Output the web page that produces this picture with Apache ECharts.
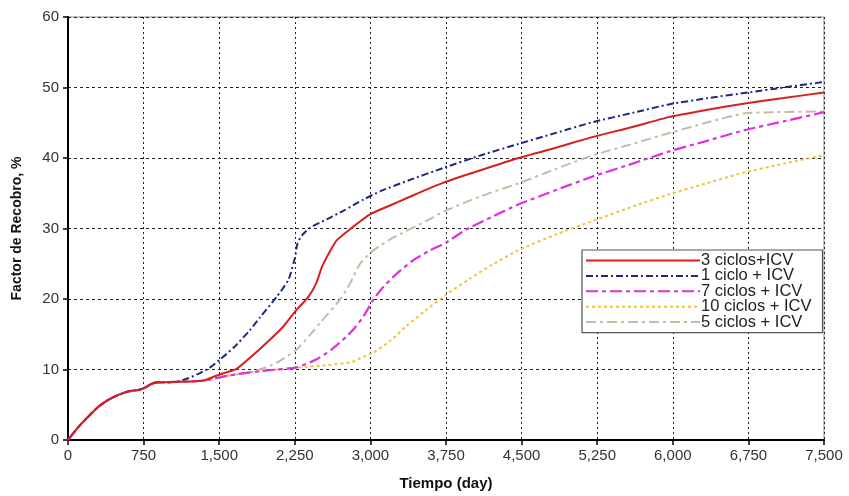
<!DOCTYPE html>
<html>
<head>
<meta charset="utf-8">
<script src="https://cdn.jsdelivr.net/npm/echarts@6/dist/echarts.min.js"></script>
<style>html,body{margin:0;padding:0;background:#fff;}#c{width:849px;height:496px;}</style>
</head>
<body>
<div id="c"></div>
<script>
var xTicks = [0, 750, 1500, 2250, 3000, 3750, 4500, 5250, 6000, 6750, 7500];
var yTicks = [0, 10, 20, 30, 40, 50, 60];
var seriesNames = ['3 ciclos+ICV', '1 ciclo + ICV', '7 ciclos + ICV', '10 ciclos + ICV', '5 ciclos + ICV'];

var common = [[0,0],[100,1.8],[200,3.3],[300,4.7],[400,5.7],[500,6.4],[600,6.9],[700,7.1],[760,7.4],[820,7.9],[870,8.15],[1000,8.2]];
var commonTail = [[1200,8.3],[1350,8.45]];
var baseline = [[1450,8.7],[1575,9.1],[1806,9.6]];

var blueData = [[1100,8.35],[1200,8.8],[1310,9.5],[1400,10.2],[1508,11.4],[1650,13.2],[1806,15.6],[1905,17.4],[2070,20.3],[2186,22.7],[2252,25.9],[2275,27.8],[2319,29.0],[2401,30.1],[2566,31.3],[2731,32.5],[2930,34.1],[3100,35.3],[3375,36.8],[3725,38.6],[4100,40.4],[4470,42.0],[4850,43.6],[5210,45.1],[5600,46.4],[5960,47.6],[6350,48.5],[6750,49.3],[7100,50.0],[7500,50.8]];
var redData = [[1450,9.0],[1550,9.5],[1673,10.1],[1800,11.6],[1971,13.8],[2136,16.1],[2269,18.5],[2385,20.3],[2467,22.4],[2517,24.5],[2566,25.9],[2665,28.3],[2798,29.9],[2996,32.0],[3200,33.3],[3375,34.4],[3725,36.5],[4100,38.3],[4470,40.0],[4850,41.5],[5210,43.0],[5600,44.4],[5960,45.8],[6330,46.8],[6700,47.7],[7100,48.5],[7500,49.3]];
var tanData = [[2000,10.5],[2100,11.2],[2269,12.85],[2400,14.9],[2500,16.6],[2698,19.9],[2798,22.2],[2897,25.0],[3029,26.9],[3227,28.7],[3558,31.1],[3757,32.6],[4100,34.6],[4467,36.4],[4850,38.5],[5211,40.4],[5600,42.0],[5956,43.5],[6330,45.0],[6700,46.3],[7000,46.5],[7500,46.6]];
var magentaData = [[2000,9.9],[2269,10.3],[2467,11.45],[2620,12.9],[2765,14.7],[2850,16.0],[2930,17.5],[3029,19.9],[3128,21.7],[3261,23.6],[3426,25.5],[3591,26.9],[3750,28.0],[3955,29.9],[4200,31.6],[4467,33.4],[4850,35.5],[5211,37.4],[5600,39.2],[5956,40.9],[6330,42.4],[6700,43.9],[7100,45.2],[7500,46.5]];
var yellowData = [[2000,9.9],[2302,10.3],[2550,10.6],[2797,11.0],[2900,11.6],[3029,12.4],[3200,14.1],[3360,16.2],[3558,18.5],[3750,20.6],[3988,22.9],[4200,24.8],[4467,26.9],[4850,29.2],[5211,31.1],[5600,33.1],[5956,34.8],[6330,36.4],[6700,37.9],[7100,39.2],[7500,40.4]];

var red = common.concat(commonTail, redData);
var blue = common.concat(blueData);
var tan = common.concat(commonTail, baseline, tanData);
var magenta = common.concat(commonTail, baseline, magentaData);
var yellow = common.concat(commonTail, baseline, yellowData);

function mk(name, data, color, type, width){
  return {name:name, type:'line', data:data, symbol:'none', smooth:0.2,
    lineStyle:{color:color, width:width, type:type}, itemStyle:{color:color}, emphasis:{disabled:true}};
}

var chart = echarts.init(document.getElementById('c'), null, {renderer:'canvas'});
chart.setOption({
  animation:false,
  backgroundColor:'#fff',
  textStyle:{fontFamily:'Liberation Sans, Arial, sans-serif'},
  grid:{left:68, right:25, top:17, bottom:51, show:true, borderColor:'#8a8a8a', borderWidth:1, containLabel:false},
  legend:{
    data:seriesNames, orient:'vertical', left:582, top:250,
    backgroundColor:'#fff', borderColor:'#555', borderWidth:1.2,
    padding:[2,11,2,3], itemWidth:114, itemHeight:14, itemGap:-1.6,
    itemStyle:{opacity:0},
    textStyle:{fontSize:16.5, lineHeight:15, color:'#222', fontFamily:'Liberation Sans, Arial, sans-serif', padding:[0,0,0,-4]}
  },
  xAxis:{
    type:'value', min:0, max:7500, interval:750,
    name:'Tiempo (day)', nameLocation:'middle', nameGap:36,
    nameTextStyle:{fontSize:15, fontWeight:'bold', color:'#111'},
    axisLine:{lineStyle:{color:'#000', width:2}},
    axisTick:{show:true, length:5, lineStyle:{color:'#000', width:1.5}},
    axisLabel:{fontSize:15, color:'#333', margin:8, formatter:function(v){return v.toLocaleString('en-US');}},
    splitLine:{show:true, lineStyle:{color:'#222', width:1, type:[2,3]}}
  },
  yAxis:{
    type:'value', min:0, max:60, interval:10,
    name:'Factor de Recobro, %', nameLocation:'middle', nameGap:44,
    nameTextStyle:{fontSize:14, fontWeight:'bold', color:'#111'},
    axisLine:{show:true, lineStyle:{color:'#000', width:2}},
    axisTick:{show:true, length:5, lineStyle:{color:'#000', width:1.5}},
    axisLabel:{fontSize:15, color:'#333', margin:9},
    splitLine:{show:true, lineStyle:{color:'#222', width:1, type:[3,3]}}
  },
  series:[
    mk(seriesNames[3], yellow, '#f2c23a', [3,3], 2),
    mk(seriesNames[4], tan, '#cbb9a6', [10,4,3,4], 2),
    mk(seriesNames[2], magenta, '#e02ee0', [12,4,4,4], 2.2),
    mk(seriesNames[1], blue, '#1c2a80', [7,3,2,3], 2),
    mk(seriesNames[0], red, '#d42020', 'solid', 2)
  ]
});
</script>
</body>
</html>
